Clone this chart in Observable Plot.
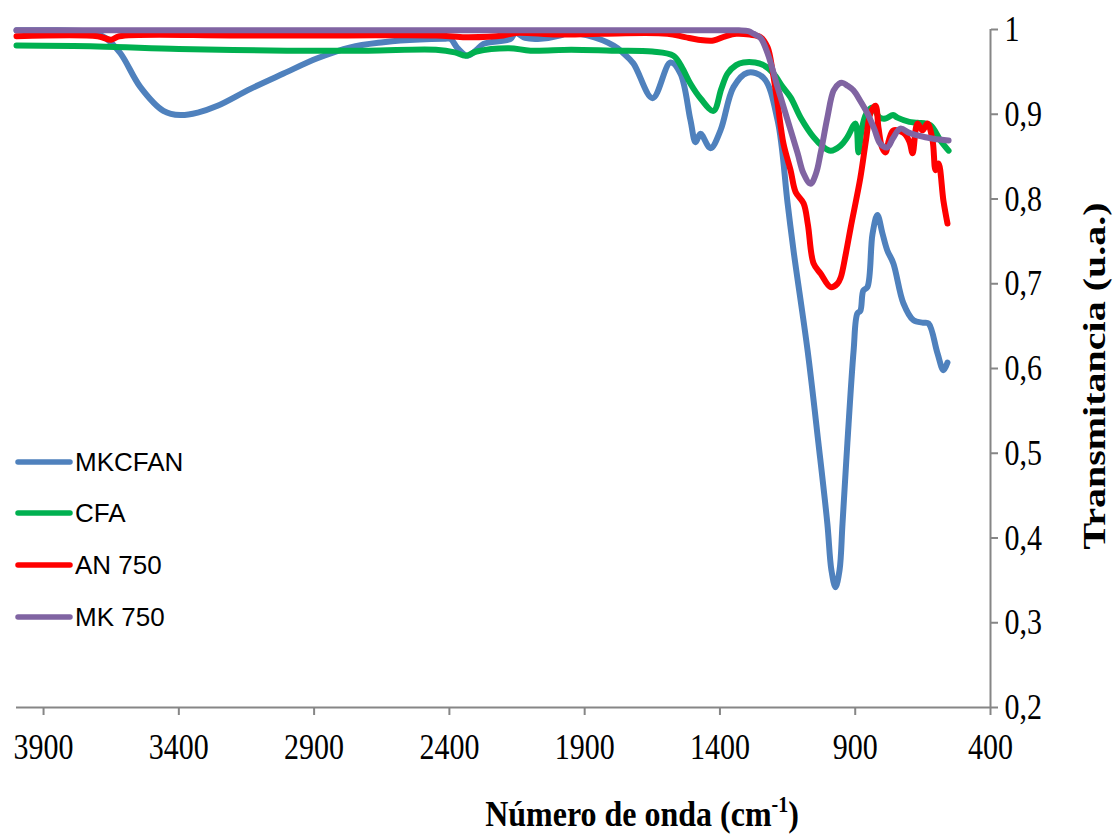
<!DOCTYPE html>
<html><head><meta charset="utf-8">
<script src="https://cdn.jsdelivr.net/npm/d3@7"></script>
<script src="https://cdn.jsdelivr.net/npm/@observablehq/plot@0.6"></script>
<style>body{margin:0;background:#fff}#chart{width:1113px;height:835px}</style>
</head><body><div id="chart"></div>
<script>
const seriesNames = ["MKCFAN", "CFA", "AN 750", "MK 750"];
const seriesColors = ["#4F81BD", "#00B050", "#FF0000", "#8064A2"];
const xTicks = [3900, 3400, 2900, 2400, 1900, 1400, 900, 400];
const yTicks = [0.2, 0.3, 0.4, 0.5, 0.6, 0.7, 0.8, 0.9, 1];
const xTitle = "Número de onda (cm";
const xTitleSup = "-1";
const yTitle = "Transmitancia (u.a.)";

// [wavenumber cm-1, transmittance]
const mkcfan = [[4000,0.999],[3850,0.999],[3720,0.997],[3671,0.990],[3616,0.972],[3542,0.932],[3457,0.904],[3394,0.899],[3330,0.902],[3257,0.910],[3135,0.930],[3013,0.948],[2888,0.966],[2766,0.979],[2644,0.985],[2581,0.987],[2420,0.989],[2396,0.989],[2370,0.978],[2333,0.969],[2300,0.976],[2274,0.983],[2174,0.989],[2156,0.996],[2120,0.990],[2063,0.989],[1989,0.993],[1963,0.996],[1890,0.993],[1793,0.981],[1760,0.973],[1720,0.960],[1649,0.919],[1583,0.961],[1546,0.948],[1509,0.893],[1490,0.867],[1472,0.877],[1435,0.860],[1398,0.881],[1350,0.932],[1298,0.949],[1239,0.943],[1187,0.893],[1150,0.795],[1128,0.739],[1076,0.621],[1036,0.512],[1003,0.417],[988,0.362],[973,0.342],[958,0.362],[947,0.417],[929,0.512],[906,0.621],[892,0.665],[881,0.668],[870,0.692],[855,0.696],[836,0.759],[818,0.781],[799,0.759],[781,0.739],[759,0.724],[722,0.677],[685,0.657],[648,0.654],[629,0.653],[596,0.618],[574,0.598],[559,0.607]];
const cfa = [[4000,0.981],[3700,0.980],[3400,0.977],[3000,0.975],[2700,0.975],[2450,0.976],[2380,0.973],[2340,0.969],[2300,0.974],[2180,0.978],[2100,0.975],[1950,0.976],[1800,0.975],[1650,0.974],[1572,0.969],[1540,0.955],[1509,0.936],[1470,0.918],[1424,0.904],[1395,0.930],[1372,0.948],[1340,0.958],[1313,0.961],[1270,0.961],[1239,0.958],[1202,0.948],[1170,0.933],[1139,0.920],[1100,0.895],[1054,0.873],[1020,0.862],[991,0.857],[954,0.863],[929,0.873],[899,0.889],[888,0.855],[877,0.880],[860,0.900],[836,0.908],[810,0.896],[788,0.895],[760,0.899],[744,0.896],[700,0.891],[670,0.890],[622,0.887],[585,0.869],[555,0.857]];
const an750 = [[4000,0.992],[3700,0.992],[3650,0.988],[3620,0.992],[3200,0.993],[2800,0.993],[2450,0.993],[2350,0.991],[2200,0.993],[2156,0.996],[2000,0.994],[1842,0.995],[1594,0.995],[1530,0.991],[1480,0.988],[1424,0.987],[1380,0.992],[1340,0.995],[1290,0.994],[1250,0.991],[1224,0.979],[1205,0.950],[1187,0.913],[1165,0.865],[1139,0.834],[1120,0.808],[1091,0.795],[1075,0.770],[1054,0.724],[1028,0.712],[991,0.696],[966,0.700],[954,0.707],[935,0.735],[917,0.766],[881,0.825],[860,0.870],[844,0.901],[825,0.910],[814,0.884],[800,0.860],[788,0.855],[775,0.870],[759,0.881],[722,0.878],[700,0.868],[688,0.854],[670,0.889],[651,0.881],[633,0.889],[614,0.869],[603,0.834],[592,0.842],[574,0.798],[559,0.771]];
const mk750 = [[4000,0.999],[3000,0.999],[2000,0.999],[1500,0.999],[1330,0.999],[1295,0.998],[1276,0.995],[1250,0.990],[1224,0.972],[1187,0.932],[1150,0.893],[1113,0.854],[1091,0.830],[1065,0.818],[1045,0.830],[1028,0.854],[1003,0.896],[980,0.928],[960,0.936],[947,0.937],[930,0.934],[906,0.928],[880,0.915],[855,0.901],[830,0.883],[807,0.865],[781,0.861],[760,0.872],[733,0.883],[700,0.878],[670,0.875],[611,0.871],[555,0.869]];

const seriesData = [mkcfan, cfa, an750, mk750];
const rows = seriesData.flatMap((s, k) => s.map(([w, t]) => ({w, t, series: seriesNames[k]})));

const axisGray = "#868686";
const serif = "'Liberation Serif', 'Times New Roman', serif";
const plot = Plot.plot({
  width: 1113, height: 835,
  marginLeft: 16, marginRight: 123, marginTop: 29, marginBottom: 128,
  style: {fontFamily: serif, fontSize: "30px", color: "#000", background: "#fff", overflow: "visible"},
  x: {domain: [4000, 400], ticks: xTicks, tickFormat: d => String(d), tickSize: 8, tickPadding: 20, label: null, axis: "bottom"},
  y: {domain: [0.2, 1], ticks: yTicks, tickFormat: d => d === 1 ? "1" : d.toFixed(1).replace(".", ","), axis: "right", tickSize: 7, tickPadding: 7, label: null},
  color: {domain: seriesNames, range: seriesColors},
  marks: [
    Plot.ruleY([0.2], {stroke: axisGray, strokeWidth: 2}),
    Plot.ruleX([400], {stroke: axisGray, strokeWidth: 2}),
    Plot.line(rows, {x: "w", y: "t", z: "series", stroke: "series", strokeWidth: 6, curve: "catmull-rom", strokeLinejoin: "round", strokeLinecap: "round"})
  ]
});
document.getElementById("chart").appendChild(plot);

const svg = d3.select(plot);
svg.selectAll("g[aria-label$='tick'], g[aria-label$='ticks']").attr("stroke", axisGray).attr("stroke-width", 2);
// tick labels: black, slightly tall (as in the reference rendering)
svg.selectAll("text").each(function() {
  const el = d3.select(this);
  el.attr("fill", "#000");
  const b = this.getBBox();
  const cx = b.x + b.width / 2, cy = b.y + b.height / 2;
  const t = el.attr("transform") || "";
  el.attr("transform", `${t} translate(${cx},${cy}) scale(1,1.2) translate(${-cx},${-cy})`);
});

// axis titles
const xt = svg.append("text")
  .attr("transform", "translate(642,826) scale(1,1.15)")
  .attr("text-anchor", "middle")
  .attr("font-family", serif)
  .attr("font-weight", "bold").attr("font-size", 32).attr("fill", "#000");
xt.append("tspan").text(xTitle);
xt.append("tspan").attr("font-size", 20).attr("dy", -12).text(xTitleSup);
xt.append("tspan").attr("dy", 12).text(")");

svg.append("text")
  .attr("transform", "translate(1105,376) scale(1,1.25) rotate(-90)")
  .attr("text-anchor", "middle")
  .attr("font-family", serif)
  .attr("font-weight", "bold").attr("font-size", 32).attr("fill", "#000")
  .text(yTitle);

// legend
const legY = [462, 513, 565, 617];
const leg = svg.append("g");
seriesNames.forEach((name, i) => {
  leg.append("line").attr("x1", 18).attr("x2", 70).attr("y1", legY[i]).attr("y2", legY[i])
    .attr("stroke", seriesColors[i]).attr("stroke-width", 5.5).attr("stroke-linecap", "round");
  leg.append("text").attr("x", 75).attr("y", legY[i]).attr("dy", "0.36em")
    .attr("text-anchor", "start")
    .attr("font-family", "'Liberation Sans', Arial, sans-serif").attr("font-size", 26)
    .attr("fill", "#000").text(name);
});
</script>
</body></html>
